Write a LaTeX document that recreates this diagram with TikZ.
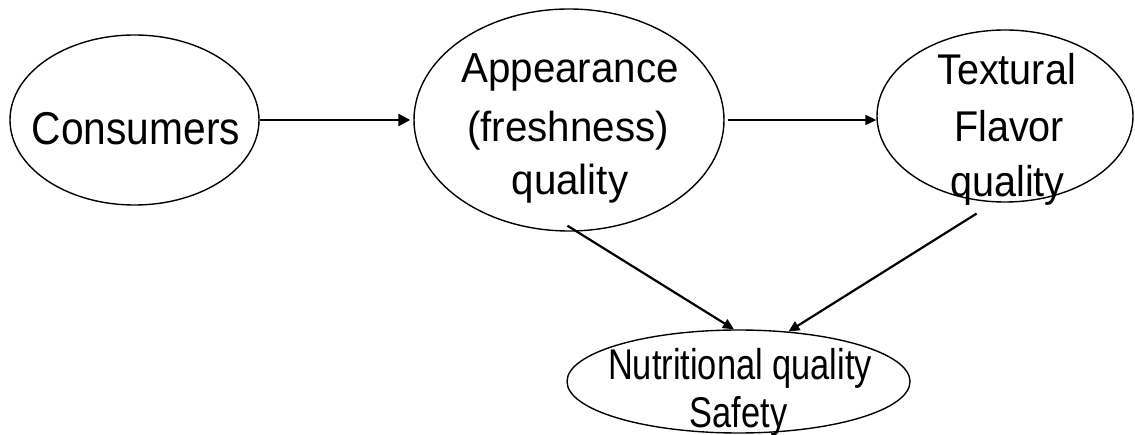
\documentclass[tikz,border=0pt]{standalone}
\usepackage{fontspec}
\setmainfont{Liberation Sans}
\newfontfamily\fcons[FakeStretch=0.885]{Liberation Sans}
\newfontfamily\fapp[FakeStretch=0.96]{Liberation Sans}
\newfontfamily\ftex[FakeStretch=0.92]{Liberation Sans}
\newfontfamily\fnut[FakeStretch=0.80]{Liberation Sans}
\usetikzlibrary{arrows.meta,shapes.geometric}
\begin{document}
\begin{tikzpicture}[x=1pt,y=-1pt,
  oval/.style={draw, ellipse, line width=1.4pt, inner sep=0pt},
  lbl/.style={anchor=base, inner sep=0pt},
  conn/.style={-{Triangle[length=12pt,width=12pt]}, line width=2.6pt},
  connd/.style={-{Triangle[length=11pt,width=10pt]}, line width=2.2pt},
  ]
\useasboundingbox (0,0) rectangle (1135,435);
% ellipses
\node[oval, minimum width=249pt, minimum height=170pt] (cons) at (134.5,120) {};
\node[oval, minimum width=310pt, minimum height=222pt] (app) at (569,120) {};
\node[oval, minimum width=256pt, minimum height=172pt] (tex) at (1005,116) {};
\node[oval, minimum width=343pt, minimum height=103pt] (nut) at (738.5,381.5) {};
% texts
\node[lbl, font=\fcons\fontsize{46}{46}\selectfont] (cons-t) at (136,145) {Consumers};
\node[lbl, font=\fapp\fontsize{42}{42}\selectfont] (app-t1) at (570,83) {Appearance};
\node[lbl, font=\fapp\fontsize{42}{42}\selectfont] (app-t2) at (568,142) {(freshness)};
\node[lbl, font=\fapp\fontsize{42}{42}\selectfont] (app-t3) at (570,195) {quality};
\node[lbl, font=\ftex\fontsize{43}{43}\selectfont] (tex-t1) at (1006.5,85) {Textural};
\node[lbl, font=\ftex\fontsize{43}{43}\selectfont] (tex-t2) at (1009,142) {Flavor};
\node[lbl, font=\ftex\fontsize{43}{43}\selectfont] (tex-t3) at (1007.5,197) {quality};
\node[lbl, font=\fnut\fontsize{43}{43}\selectfont] (nut-t1) at (740,380) {Nutritional quality};
\node[lbl, font=\fnut\fontsize{43}{43}\selectfont] (nut-t2) at (738.5,427) {Safety};
% connectors
\draw[conn, shorten >=3pt] (cons.east) -- (app.west);
\draw[connd, shorten <=3pt] (app.east) -- (app.east -| tex.west);
\draw[connd, shorten <=-11pt] (app.274) -- (nut.95.8);
\draw[connd, shorten <=21pt] (tex.263.2) -- (nut.45);
\end{tikzpicture}
\end{document}
